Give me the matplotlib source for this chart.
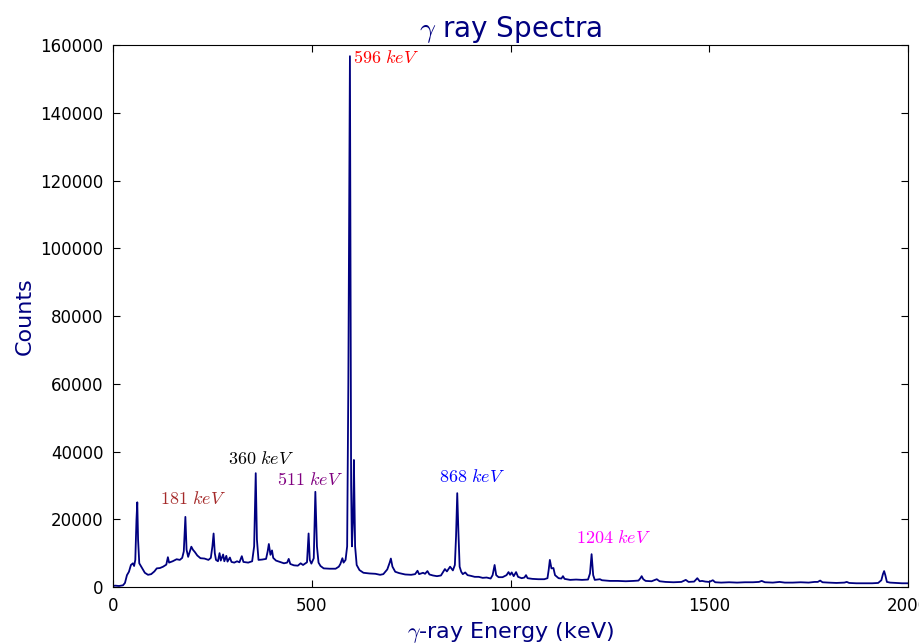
import numpy as np
import matplotlib
matplotlib.use("Agg")
import matplotlib.pyplot as plt

# spectrum (energy in keV, counts)
energy_kev = [0, 5, 15, 25, 30, 35, 40, 45, 50, 53, 56, 59, 61, 63, 66, 70, 75, 80, 88, 96,
              104, 110, 118, 126, 134, 138, 141, 150, 160, 168, 174, 178, 182, 185, 189, 194, 197, 201, 206, 212,
              220, 230, 240, 246, 250, 253, 256, 259, 264, 268, 271, 277, 280, 285, 288, 294, 298, 305, 312, 318,
              324, 328, 340, 350, 355, 359, 362, 366, 375, 385, 389, 392, 396, 400, 403, 410, 420, 430, 438, 442,
              446, 455, 465, 472, 478, 483, 488, 492, 495, 499, 505, 509, 513, 517, 522, 530, 545, 560, 568, 572,
              577, 580, 585, 589, 592, 596, 599, 601, 604, 606, 609, 613, 620, 630, 645, 660, 672, 680, 690, 696,
              699, 703, 710, 720, 735, 750, 760, 766, 770, 780, 785, 791, 796, 805, 815, 825, 835, 840, 848, 855,
              860, 863, 866, 869, 872, 876, 880, 886, 892, 900, 910, 920, 930, 940, 950, 955, 960, 964, 970, 980,
              990, 995, 999, 1003, 1008, 1014, 1019, 1028, 1035, 1039, 1043, 1055, 1070, 1085, 1093, 1096, 1099, 1103, 1108, 1112,
              1121, 1128, 1132, 1136, 1150, 1165, 1180, 1195, 1200, 1204, 1208, 1212, 1225, 1230, 1250, 1270, 1290, 1310, 1322, 1327,
              1330, 1334, 1340, 1355, 1368, 1375, 1390, 1410, 1430, 1441, 1448, 1462, 1470, 1476, 1482, 1490, 1500, 1509, 1515, 1530,
              1550, 1570, 1590, 1610, 1625, 1632, 1640, 1660, 1677, 1690, 1710, 1730, 1750, 1765, 1773, 1779, 1785, 1800, 1820, 1840,
              1846, 1852, 1870, 1890, 1910, 1925, 1933, 1937, 1940, 1943, 1947, 1955, 1970, 1985, 2000]
counts = [300, 400, 300, 500, 1200, 3500, 4500, 6500, 7000, 6200, 8000, 20000, 25000, 14000, 7000, 6200, 5200, 4200, 3600, 3800,
          4600, 5500, 5600, 6000, 6600, 8800, 7200, 7600, 8200, 8000, 8600, 10500, 20700, 11000, 8900, 10800, 11900, 11000, 10300, 9300,
          8500, 8400, 8000, 8600, 12000, 15800, 10000, 8000, 7600, 10000, 7800, 9600, 7600, 9200, 7500, 8700, 7400, 7200, 7600, 7300,
          9100, 7400, 7200, 7600, 12000, 33600, 14000, 8000, 8100, 8300, 10500, 12700, 9500, 10800, 8600, 7800, 7400, 7000, 7200, 8300,
          6800, 6400, 6300, 7000, 6500, 6900, 7300, 15800, 8000, 6900, 8500, 28100, 12000, 7200, 6200, 5500, 5400, 5400, 6000, 6800,
          8500, 7200, 8000, 12000, 60000, 156700, 30000, 12000, 20000, 37500, 12000, 6500, 5000, 4200, 4000, 3900, 3600, 3800, 5200, 7200,
          8400, 6000, 4500, 4100, 3700, 3600, 3800, 4800, 3800, 4200, 3900, 4700, 3700, 3400, 3200, 3400, 5300, 4600, 6000, 4900,
          6500, 15000, 27700, 16000, 6000, 4500, 3800, 4300, 3500, 3300, 3000, 3000, 2700, 2800, 2500, 3500, 6500, 3500, 2900, 2900,
          3500, 4400, 3600, 4300, 3200, 4400, 3000, 2600, 2800, 3500, 2600, 2400, 2300, 2300, 2600, 5000, 8000, 5500, 5600, 3500,
          2600, 2500, 3200, 2400, 2100, 2200, 2100, 2200, 4000, 9700, 3500, 2100, 2300, 2000, 1800, 1800, 1700, 1800, 1900, 2600,
          3200, 2300, 1800, 1700, 2300, 1700, 1500, 1400, 1500, 2100, 1500, 1600, 2600, 1700, 1800, 1600, 1500, 2000, 1400, 1300,
          1400, 1300, 1400, 1400, 1500, 1800, 1400, 1300, 1500, 1300, 1300, 1400, 1300, 1500, 1500, 1900, 1400, 1300, 1200, 1300,
          1500, 1200, 1100, 1100, 1100, 1200, 2000, 3800, 4700, 3500, 1500, 1300, 1200, 1100, 1100]

# peak labels
label_energy = [596, 181, 360, 511, 868, 1204]
label_x = [604, 202, 372, 496, 904, 1258]
label_y = [154700, 24400, 36200, 30100, 30900, 13100]
label_color = ["red", "brown", "black", "purple", "blue", "magenta"]

plt.rcParams["mathtext.fontset"] = "cm"
plt.rcParams["xtick.direction"] = "in"
plt.rcParams["ytick.direction"] = "in"
plt.rcParams["xtick.top"] = True
plt.rcParams["ytick.right"] = True

fig = plt.figure(figsize=(9.19, 6.44), dpi=100)
ax = fig.add_axes([0.123, 0.0885, 0.865, 0.8416])
ax.plot(energy_kev, counts, color="navy", lw=1.3)

for e, x, y, c in zip(label_energy, label_x, label_y, label_color):
    ha = "left" if e == 596 else "center"
    ax.text(x, y, r"$%d\ keV$" % e, color=c, fontsize=13, ha=ha, va="baseline")

ax.set_xlim(0, 2000)
ax.set_ylim(0, 160000)
ax.set_xticks([0, 500, 1000, 1500, 2000])
ax.set_yticks(np.arange(0, 160001, 20000))
ax.tick_params(labelsize=12, length=5, pad=7)
ax.set_title(r"$\gamma$ ray Spectra", color="navy", fontsize=20, pad=3)
ax.set_xlabel(r"$\gamma$-ray Energy (keV)", color="navy", fontsize=16, labelpad=4)
ax.set_ylabel("Counts", color="navy", fontsize=16, labelpad=4)

fig.savefig("out.png", dpi=100)
